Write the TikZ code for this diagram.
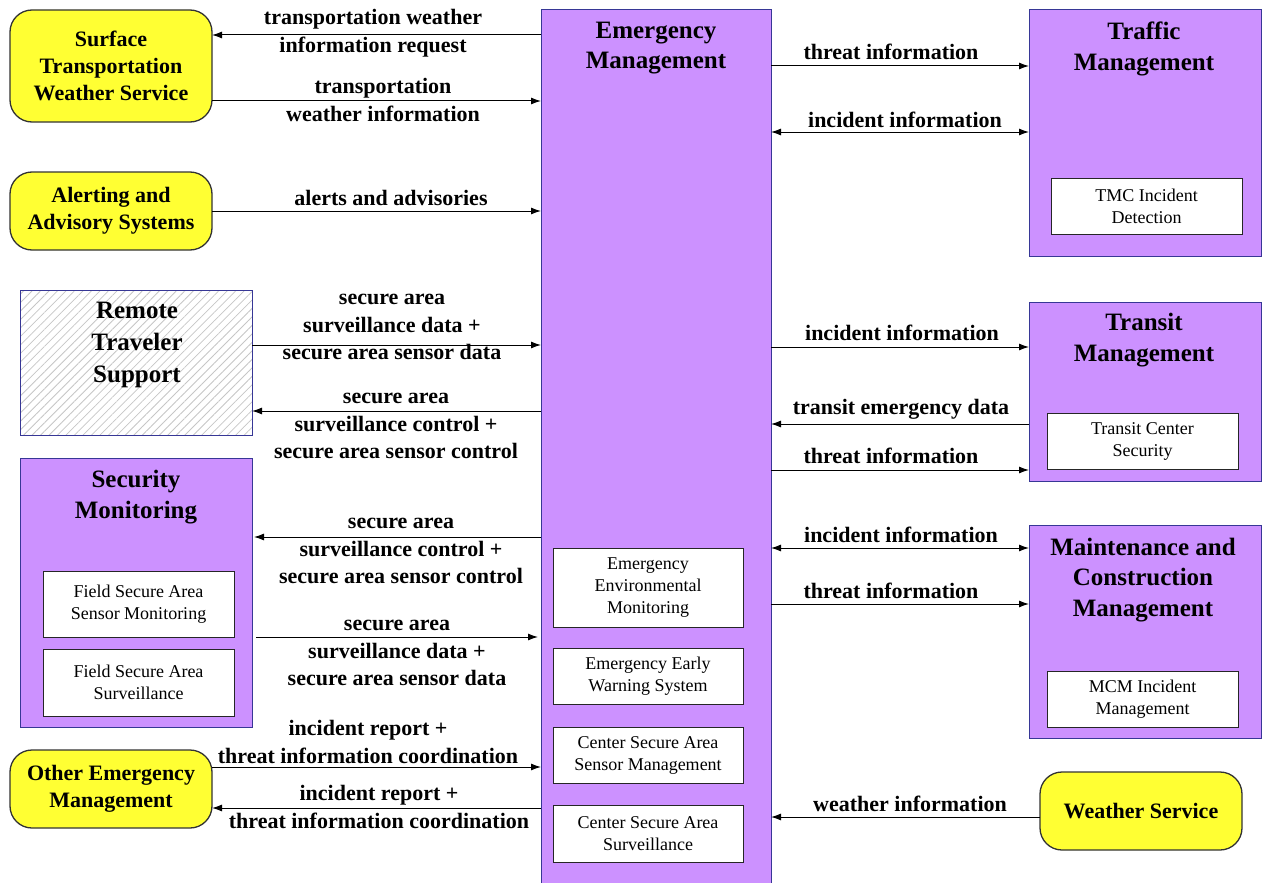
\documentclass[tikz,border=0pt]{standalone}
\usepackage{fontspec}
\setmainfont{Liberation Serif}
\usetikzlibrary{arrows.meta,patterns.meta}
\definecolor{purp}{RGB}{204,145,255}
\definecolor{yel}{RGB}{255,255,51}
\definecolor{pborder}{RGB}{55,55,150}
\newcommand\labfont{\fontsize{22}{27.5}\selectfont\bfseries}
\newcommand\titlebig{\fontsize{25}{30.5}\selectfont\bfseries}
\newcommand\titlesmall{\fontsize{22}{27}\selectfont\bfseries}
\newcommand\innerfont{\fontsize{18}{22}\selectfont}
\tikzset{
 purplebox/.style={draw=pborder, fill=purp, line width=1pt, inner sep=0pt, outer sep=0pt},
 hatchbox/.style={draw=pborder, line width=1pt, inner sep=0pt, outer sep=0pt, pattern={Lines[angle=45,distance=6pt,line width=0.8pt]}, pattern color=gray!45},
 yellowbox/.style={draw=black!80, fill=yel, line width=1.3pt, rounded corners=22pt, inner sep=0pt, outer sep=0pt, align=center, font=\titlesmall},
 innerbox/.style={draw=black!85, fill=white, line width=1pt, inner sep=0pt, outer sep=0pt, align=center, font=\innerfont},
 title/.style={align=center, font=\titlebig, inner sep=0pt},
 lab/.style={align=center, font=\labfont, inner sep=0pt},
 arr/.style={-{Latex[length=10pt,width=7pt]}, line width=1pt},
 darr/.style={{Latex[length=10pt,width=7pt]}-{Latex[length=10pt,width=7pt]}, line width=1pt},
}
\begin{document}
\begin{tikzpicture}[x=1pt,y=-1pt]
\useasboundingbox (0,0) rectangle (1262,883);
% central
\node[purplebox, minimum width=230pt, minimum height=873pt] (em) at (656,446.5) {};
\node[title] (emt) at (656,48) {Emergency\\Management};
\node[innerbox, minimum width=190pt, minimum height=79pt] (eem) at (648,587.5) {Emergency\\Environmental\\Monitoring};
\node[innerbox, minimum width=190pt, minimum height=56pt] (eews) at (648,676) {Emergency Early\\Warning System};
\node[innerbox, minimum width=190pt, minimum height=56pt] (csasm) at (648,755) {Center Secure Area\\Sensor Management};
\node[innerbox, minimum width=190pt, minimum height=57pt] (csas) at (648,833.5) {Center Secure Area\\Surveillance};
% left
\node[yellowbox, minimum width=202pt, minimum height=112pt] (stws) at (111,66) {Surface\\Transportation\\Weather Service};
\node[yellowbox, minimum width=202pt, minimum height=78pt] (aas) at (111,211) {Alerting and\\Advisory Systems};
\node[hatchbox, minimum width=232pt, minimum height=145pt] (rts) at (136,362.5) {};
\node[title, font=\fontsize{25}{32}\selectfont\bfseries] (rtst) at (137,345) {Remote\\Traveler\\Support};
\node[purplebox, minimum width=232pt, minimum height=269pt] (sm) at (136,592.5) {};
\node[title] (smt) at (136,497) {Security\\Monitoring};
\node[innerbox, minimum width=191pt, minimum height=66pt] (fsasm) at (138.5,604) {Field Secure Area\\Sensor Monitoring};
\node[innerbox, minimum width=191pt, minimum height=67pt] (fsas) at (138.5,682.5) {Field Secure Area\\Surveillance};
\node[yellowbox, minimum width=202pt, minimum height=78pt] (oem) at (111,789) {Other Emergency\\Management};
% right
\node[purplebox, minimum width=232pt, minimum height=246pt] (tm) at (1145,133) {};
\node[title] (tmt) at (1144,49) {Traffic\\Management};
\node[innerbox, minimum width=191pt, minimum height=56pt] (tmc) at (1146.5,206) {TMC Incident\\Detection};
\node[purplebox, minimum width=232pt, minimum height=179pt] (trm) at (1145,391.5) {};
\node[title] (trmt) at (1144,340) {Transit\\Management};
\node[innerbox, minimum width=191pt, minimum height=56pt] (tcs) at (1142.5,441) {Transit Center\\Security};
\node[purplebox, minimum width=232pt, minimum height=213pt] (mcm) at (1145,631.5) {};
\node[title] (mcmt) at (1143,580) {Maintenance and\\Construction\\Management};
\node[innerbox, minimum width=191pt, minimum height=56pt] (mcmi) at (1142.5,699) {MCM Incident\\Management};
\node[yellowbox, minimum width=202pt, minimum height=78pt] (ws) at (1141,811) {Weather Service};
% left connectors
\draw[arr] (em.west |- 0,35) -- (stws.east |- 0,35);
\node[lab] (l1) at (373,33) {transportation weather\\information request};
\draw[arr] (stws.east |- 0,101) -- (em.west |- 0,101);
\node[lab] (l2) at (383,100) {transportation\\weather information};
\draw[arr] (aas.east |- 0,211) -- (em.west |- 0,211);
\node[lab] (l3) at (391,198) {alerts and advisories};
\draw[arr] (rts.east |- 0,345) -- (em.west |- 0,345);
\node[lab] (l4) at (392,327) {secure area\\surveillance data +\\secure area sensor data};
\draw[arr] (em.west |- 0,411) -- (rts.east |- 0,411);
\node[lab] (l5) at (396,426) {secure area\\surveillance control +\\secure area sensor control};
\draw[arr] (em.west |- 0,537) -- ([xshift=2pt]sm.east |- 0,537);
\node[lab] (l6) at (401,551) {secure area\\surveillance control +\\secure area sensor control};
\draw[arr] ([xshift=4pt]sm.east |- 0,637) -- ([xshift=-3pt]em.west |- 0,637);
\node[lab] (l7) at (397,653) {secure area\\surveillance data +\\secure area sensor data};
\draw[arr] (oem.east |- 0,767) -- (em.west |- 0,767);
\node[lab] (l8) at (368,742) {incident report +\\threat information coordination};
\draw[arr] (em.west |- 0,808) -- (oem.east |- 0,808);
\node[lab] (l9) at (379,807) {incident report +\\threat information coordination};
% right connectors
\draw[arr] (em.east |- 0,66) -- (tm.west |- 0,66);
\node[lab] (r1) at (891,52) {threat information};
\draw[darr] (em.east |- 0,132) -- (tm.west |- 0,132);
\node[lab] (r2) at (905,120) {incident information};
\draw[arr] (em.east |- 0,347) -- (trm.west |- 0,347);
\node[lab] (r3) at (902,333) {incident information};
\draw[arr] (trm.west |- 0,424) -- (em.east |- 0,424);
\node[lab] (r4) at (901,409) {transit emergency data};
\draw[arr] (em.east |- 0,470) -- (trm.west |- 0,470);
\node[lab] (r5) at (891,456) {threat information};
\draw[darr] (em.east |- 0,548) -- (mcm.west |- 0,548);
\node[lab] (r6) at (901,535) {incident information};
\draw[arr] (em.east |- 0,604) -- (mcm.west |- 0,604);
\node[lab] (r7) at (891,591) {threat information};
\draw[arr] (ws.west |- 0,817) -- (em.east |- 0,817);
\node[lab] (r8) at (910,804) {weather information};
\end{tikzpicture}
\end{document}
